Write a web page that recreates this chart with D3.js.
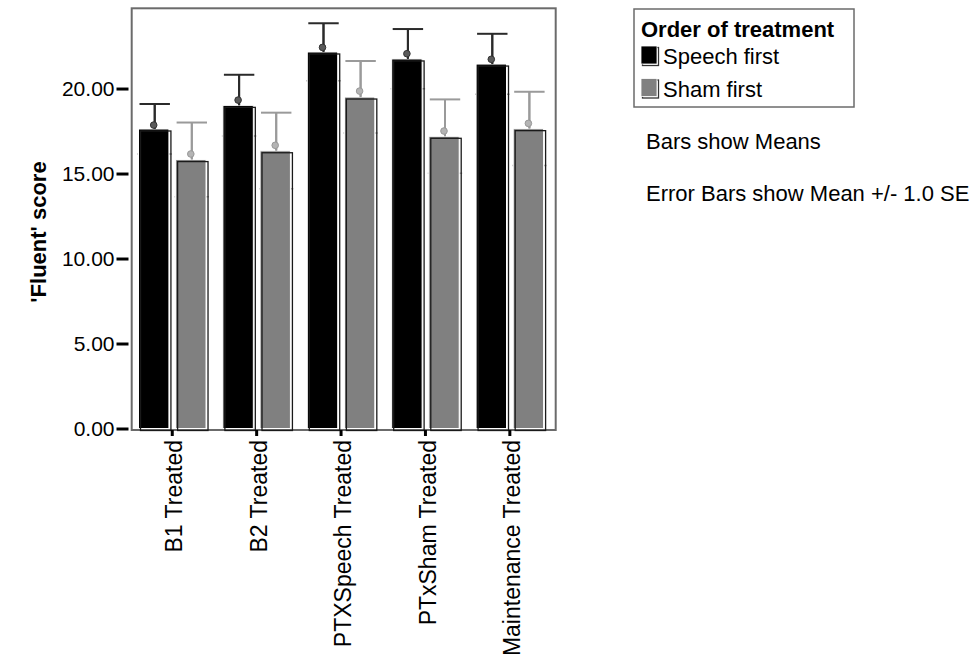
<!DOCTYPE html>
<html>
<head>
<meta charset="utf-8">
<script src="https://cdn.jsdelivr.net/npm/d3@7"></script>
<style>
    body { margin: 0; background: #fff; }
    text { font-family: "Liberation Sans", Arial, sans-serif; }
</style>
</head>
<body>
<div id="chart"></div>
<script>
const categories = ["B1 Treated","B2 Treated","PTXSpeech Treated","PTxSham Treated","Maintenance Treated"];
const seriesNames = ["Speech first","Sham first"];

const speechMeans = [17.62,19.01,22.15,21.74,21.44];
const speechSE = [1.47,1.80,1.69,1.76,1.78];
const speechMarkers = [17.85,19.32,22.42,22.05,21.72];

const shamMeans = [15.82,16.34,19.50,17.19,17.64];
const shamSE = [2.18,2.24,2.12,2.17,2.17];
const shamMarkers = [16.15,16.66,19.85,17.50,17.95];

const yTicks = [0,5,10,15,20];
const notes = ["Bars show Means","Error Bars show Mean +/- 1.0 SE"];

const width = 976;
const height = 661;
const frame = {left:131.7, top:8.3, right:555.7, bottom:430};

const barColors = ["#000000","#808080"];
const errColors = ["#2a2a2a","#9a9a9a"];
const markerFill = ["#5a5a5a","#b4b4b4"];

const svg = d3.select("#chart")
    .append("svg")
    .attr("width",width)
    .attr("height",height);

const y = d3.scaleLinear()
    .domain([0,24.72])
    .range([428.5,frame.top]);

const x0 = d3.scaleBand()
    .domain(categories)
    .range([frame.left,frame.right])
    .paddingInner(0.2)
    .paddingOuter(0.112)
    .align(0.36);

const x1 = d3.scaleBand()
    .domain(seriesNames)
    .range([0,x0.bandwidth()])
    .paddingInner(0.18);

const rows = [];
categories.forEach((c,i) =>
{
    rows.push({cat:c, s:0, name:seriesNames[0], mean:speechMeans[i], se:speechSE[i], mark:speechMarkers[i]});
    rows.push({cat:c, s:1, name:seriesNames[1], mean:shamMeans[i], se:shamSE[i], mark:shamMarkers[i]});
});

// plot frame
svg.append("rect")
    .attr("x",frame.left)
    .attr("y",frame.top)
    .attr("width",frame.right-frame.left)
    .attr("height",frame.bottom-frame.top)
    .attr("fill","none")
    .attr("stroke","#6b6b6b")
    .attr("stroke-width",2);

const bx = d => x0(d.cat)+x1(d.name);
const bw = x1.bandwidth();

// lower part of the error bars sits behind the bars
const errs = svg.append("g");
errs.selectAll("line.whisker")
    .data(rows)
    .enter()
    .append("line")
    .attr("x1",d => bx(d)+bw/2+1)
    .attr("x2",d => bx(d)+bw/2+1)
    .attr("y1",d => y(d.mean-d.se))
    .attr("y2",d => y(d.mean+d.se))
    .attr("stroke",d => errColors[d.s])
    .attr("stroke-width",2);

errs.selectAll("line.low")
    .data(rows)
    .enter()
    .append("line")
    .attr("x1",d => bx(d)-1)
    .attr("x2",d => bx(d)+bw+3)
    .attr("y1",d => y(d.mean-d.se))
    .attr("y2",d => y(d.mean-d.se))
    .attr("stroke",d => d.s == 0 ? "#9a9a9a" : "#b0b0b0")
    .attr("stroke-width",1.5);

const bars = svg.append("g")
    .selectAll("g")
    .data(rows)
    .enter()
    .append("g");

bars.append("rect")
    .attr("x",d => bx(d))
    .attr("y",d => y(d.mean))
    .attr("width",bw)
    .attr("height",d => y(0)-y(d.mean))
    .attr("fill",d => barColors[d.s])
    .attr("stroke","#ffffff")
    .attr("stroke-width",1);

bars.append("rect")
    .attr("x",d => bx(d)+2)
    .attr("y",d => y(d.mean)+2)
    .attr("width",bw)
    .attr("height",d => y(0)-y(d.mean))
    .attr("fill","none")
    .attr("stroke","#1a1a1a")
    .attr("stroke-width",1.3);

// upper whisker and cap
bars.append("line")
    .attr("x1",d => bx(d)+bw/2+1)
    .attr("x2",d => bx(d)+bw/2+1)
    .attr("y1",d => y(d.mean))
    .attr("y2",d => y(d.mean+d.se))
    .attr("stroke",d => errColors[d.s])
    .attr("stroke-width",2);

bars.append("line")
    .attr("x1",d => bx(d)+1)
    .attr("x2",d => bx(d)+bw+1)
    .attr("y1",d => y(d.mean+d.se))
    .attr("y2",d => y(d.mean+d.se))
    .attr("stroke",d => errColors[d.s])
    .attr("stroke-width",2);

bars.append("circle")
    .attr("cx",d => bx(d)+bw/2)
    .attr("cy",d => y(d.mark))
    .attr("r",3.3)
    .attr("fill",d => markerFill[d.s])
    .attr("stroke",d => d.s == 0 ? "#333" : "#999")
    .attr("stroke-width",1);

// y axis
const yAxis = svg.append("g")
    .attr("transform","translate(128.5,0)")
    .call(d3.axisLeft(y).tickValues(yTicks).tickFormat(d3.format(".2f")).tickSize(12).tickPadding(2));
yAxis.select(".domain").remove();
yAxis.selectAll(".tick line").attr("stroke","#000").attr("stroke-width",3);
yAxis.selectAll(".tick text")
    .attr("fill","#000")
    .style("font-size","21px")
    .style("font-family","'Liberation Sans', Arial, sans-serif");

// x axis
const xAxis = svg.append("g")
    .attr("transform",`translate(0,${frame.bottom})`)
    .call(d3.axisBottom(x0).tickSize(6).tickPadding(4));
xAxis.select(".domain").remove();
xAxis.selectAll(".tick line").attr("stroke","#000").attr("stroke-width",3);
xAxis.selectAll(".tick text")
    .attr("fill","#000")
    .attr("text-anchor","end")
    .attr("transform","rotate(-90)")
    .attr("x",-10)
    .attr("y",2)
    .attr("dy","0.35em")
    .style("font-size","23px")
    .style("font-family","'Liberation Sans', Arial, sans-serif");

svg.append("text")
    .attr("transform","translate(46,232) rotate(-90)")
    .attr("text-anchor","middle")
    .attr("font-weight","bold")
    .attr("font-size",22)
    .attr("fill","#000")
    .text("'Fluent' score");

// legend
const legend = svg.append("g");
legend.append("rect")
    .attr("x",634)
    .attr("y",9)
    .attr("width",220)
    .attr("height",98)
    .attr("fill","#fff")
    .attr("stroke","#6b6b6b")
    .attr("stroke-width",1.5);

legend.append("text")
    .attr("x",641)
    .attr("y",37)
    .attr("font-weight","bold")
    .attr("font-size",22)
    .text("Order of treatment");

const items = legend.selectAll("g.item")
    .data(seriesNames)
    .enter()
    .append("g")
    .attr("transform",(d,i) => `translate(641,${46+i*32.5})`);

items.append("rect")
    .attr("x",1.5)
    .attr("y",1.5)
    .attr("width",16)
    .attr("height",18)
    .attr("fill","none")
    .attr("stroke","#333")
    .attr("stroke-width",1.3);

items.append("rect")
    .attr("width",16)
    .attr("height",18)
    .attr("fill",(d,i) => barColors[i])
    .attr("stroke","#fff")
    .attr("stroke-width",0.8);

items.append("text")
    .attr("x",22)
    .attr("y",18)
    .attr("font-size",22)
    .text(d => d);

svg.selectAll("text.note")
    .data(notes)
    .enter()
    .append("text")
    .attr("class","note")
    .attr("x",646)
    .attr("y",(d,i) => 149+i*52)
    .attr("font-size",22)
    .text(d => d);
</script>
</body>
</html>
